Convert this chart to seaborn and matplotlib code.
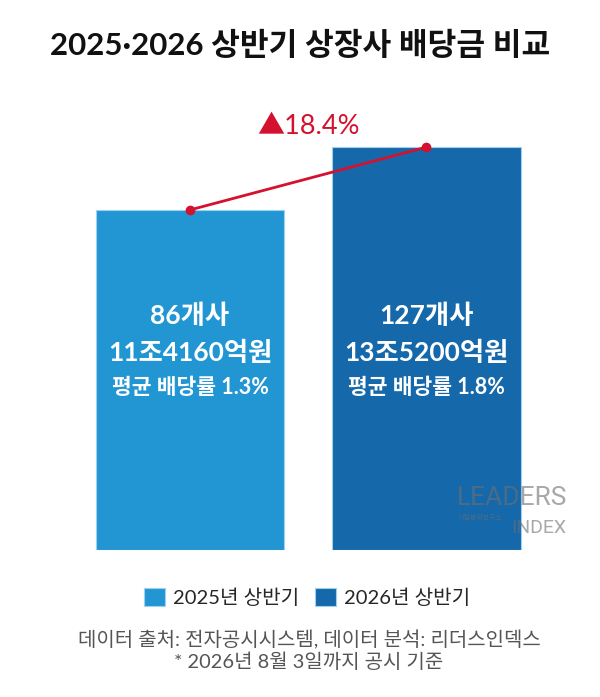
import matplotlib
matplotlib.use("Agg")
import matplotlib.pyplot as plt
import seaborn as sns
import pandas as pd

# data
periods = ["2025년 상반기", "2026년 상반기"]
dividends = [11.416, 13.52]          # 조원
companies = ["86개사", "127개사"]
amount_labels = ["11조4160억원", "13조5200억원"]
payout_labels = ["평균 배당률 1.3%", "평균 배당률 1.8%"]
growth_label = "▲18.4%"
bar_colors = ["#2196d3", "#1568aa"]

sns.set_theme(style="white")
plt.rcParams['font.family'] = ['Lato', 'Noto Sans CJK KR', 'DejaVu Sans']

df = pd.DataFrame({"period": periods, "dividend": dividends})

fig = plt.figure(figsize=(6, 6.97), dpi=100)
ax = fig.add_axes([0.12, 0.211, 0.787, 0.641])

sns.barplot(data=df, x="period", y="dividend", hue="period", palette=bar_colors,
            saturation=1, width=0.8, ax=ax, legend=False,
            edgecolor="#9fd0ee", linewidth=0.8)

# red line connecting bar tops
sns.lineplot(x=[0.0, 1.0], y=dividends, ax=ax, color="#d4112e", linewidth=2,
             marker="o", markersize=7, markeredgewidth=0)

ax.set_xlim(-0.5, 1.5)
ax.set_ylim(0, 15)
ax.axis("off")

for i in range(len(periods)):
    ax.text(i, 7.85, companies[i], ha="center", va="center", color="white",
            fontsize=19, fontweight="bold")
    ax.text(i, 6.6, amount_labels[i], ha="center", va="center", color="white",
            fontsize=19, fontweight="bold")
    ax.text(i, 5.45, payout_labels[i], ha="center", va="center", color="white",
            fontsize=15.5, fontweight="bold")

ax.text(0.5, 14.2, growth_label, ha="center", va="center", color="#d4112e",
        fontsize=19.5)

fig.text(0.5, 0.935, "2025·2026 상반기 상장사 배당금 비교", ha="center", va="center",
         fontsize=22.5, fontweight="bold", color="#111111")

# watermark
fig.text(0.762, 0.285, "LEADERS", ha="left", va="center", fontsize=19,
         color="#6f6f6f", alpha=0.6, family="Roboto")
fig.text(0.762, 0.257, "기업분석연구소", ha="left", va="center", fontsize=5,
         color="#6f6f6f", alpha=0.6)
fig.text(0.852, 0.243, "INDEX", ha="left", va="center", fontsize=14,
         color="#6f6f6f", alpha=0.6, family="Roboto")

# legend
handles = [plt.Rectangle((0, 0), 1, 1, facecolor=c, edgecolor="#9fd0ee", linewidth=0.8)
           for c in bar_colors]
fig.legend(handles, periods, loc="center", bbox_to_anchor=(0.512, 0.143), ncol=2,
           frameon=False, fontsize=14.5, handlelength=1.05, handleheight=1.05,
           handletextpad=0.4, columnspacing=0.8)

fig.text(0.515, 0.082, "데이터 출처: 전자공시시스템, 데이터 분석: 리더스인덱스",
         ha="center", va="center", fontsize=14.4, color="#555555")
fig.text(0.515, 0.050, "* 2026년 8월 3일까지 공시 기준",
         ha="center", va="center", fontsize=14.4, color="#555555")

fig.savefig("out.png", dpi=100, facecolor="white")
